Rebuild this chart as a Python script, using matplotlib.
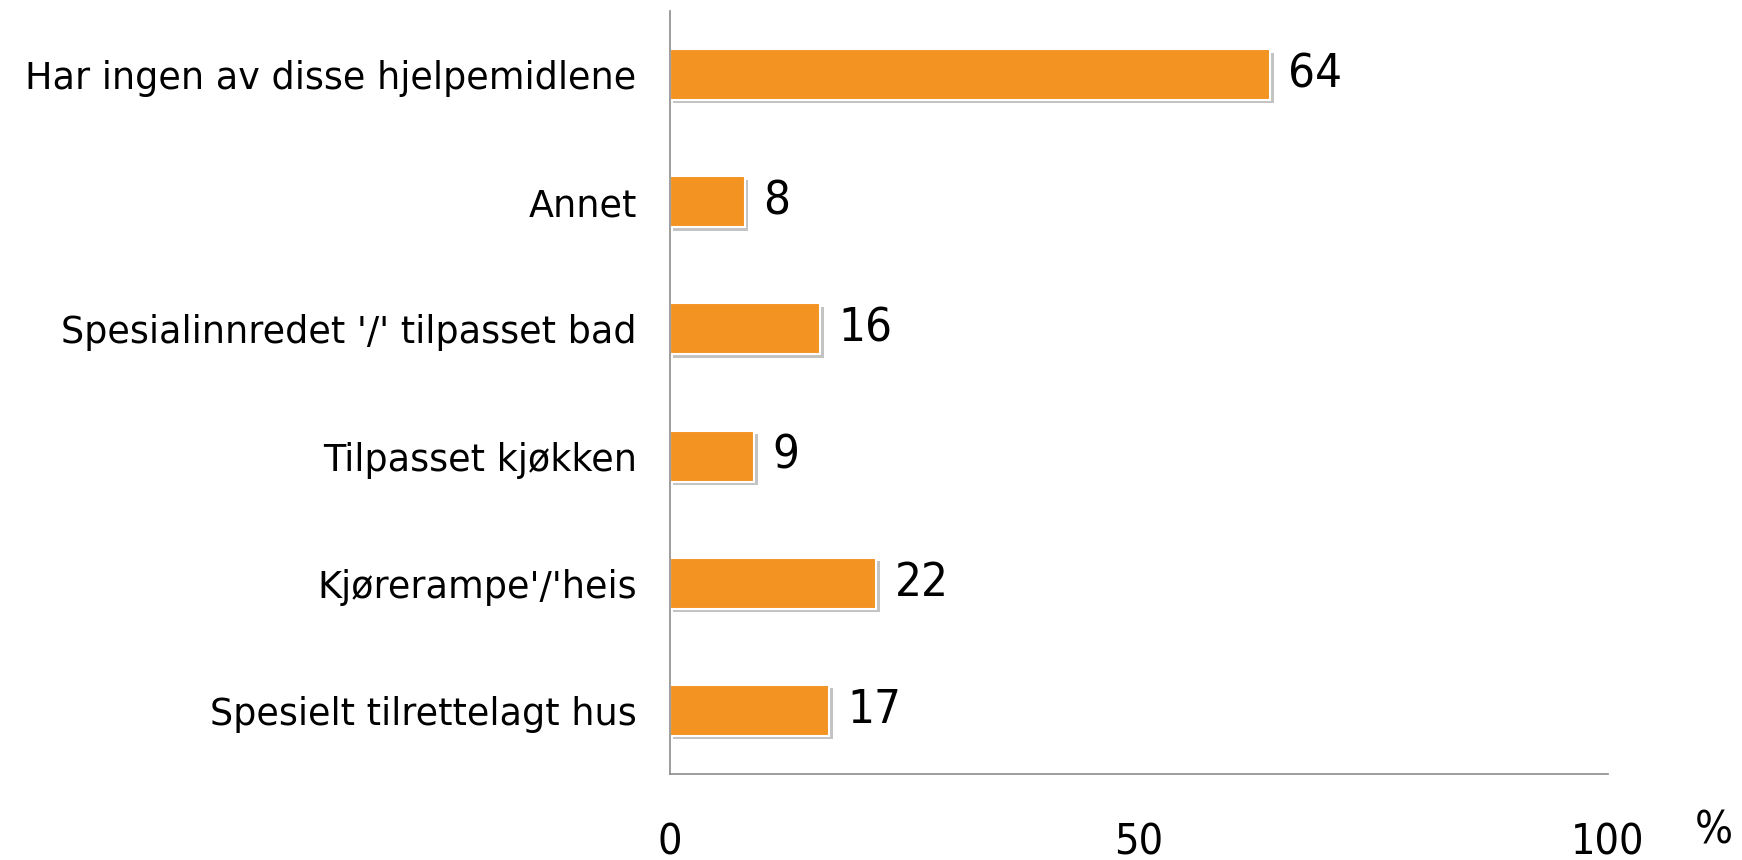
import matplotlib
matplotlib.use("Agg")
import matplotlib.pyplot as plt
import matplotlib.patheffects as pe

# data, top to bottom as in the chart
categories = ["Har ingen av disse hjelpemidlene", "Annet",
              "Spesialinnredet '/' tilpasset bad", "Tilpasset kjøkken",
              "Kjørerampe'/'heis", "Spesielt tilrettelagt hus"]
values = [64, 8, 16, 9, 22, 17]
xticks = [0, 50, 100]

fig = plt.figure(figsize=(17.42, 8.60), dpi=100)
ax = fig.add_axes([0.3846, 0.10, 0.5385, 0.8872])

ypos = list(range(len(categories)))[::-1]
bars = ax.barh(ypos, values, height=0.40, color="#F39322",
               edgecolor="white", linewidth=1.5)
for b in bars:
    b.set_path_effects([pe.SimplePatchShadow(offset=(2.5, -2.5), shadow_rgbFace="#888888", alpha=0.5),
                        pe.Normal()])

for y, v in zip(ypos, values):
    ax.annotate(str(v), (v, y), xytext=(13, 0), textcoords="offset points",
                va="center", ha="left", fontsize=34, family="DejaVu Sans",
                fontstretch="condensed")

ax.set_xlim(0, 100)
ax.set_ylim(-0.5, 5.5)
ax.set_yticks(ypos)
ax.set_yticklabels(categories, fontsize=26.3)
ax.set_xticks(xticks)
ax.set_xticklabels([str(t) for t in xticks], fontsize=31, fontstretch="condensed")
ax.tick_params(axis="y", length=0, pad=24)
ax.tick_params(axis="x", length=0, pad=34)

for s in ["top", "right"]:
    ax.spines[s].set_visible(False)
for s in ["left", "bottom"]:
    ax.spines[s].set_color("#8c8c8c")
    ax.spines[s].set_linewidth(1.2)

fig.text(1714 / 1742, 1 - 831 / 860, "%", fontsize=32, ha="center", va="center",
         fontstretch="condensed")

fig.savefig("out.png", dpi=100)
